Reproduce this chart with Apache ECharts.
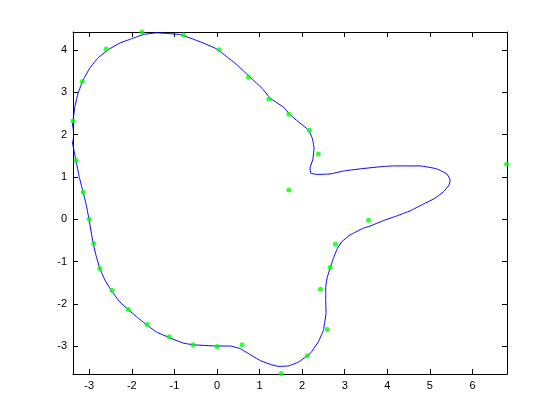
<!DOCTYPE html>
<html>
<head>
<meta charset="utf-8">
<script src="https://cdn.jsdelivr.net/npm/echarts@6/dist/echarts.min.js"></script>
<style>html,body{margin:0;padding:0;background:#fff;}#c{width:560px;height:420px;}</style>
</head>
<body>
<div id="c"></div>
<script>
// Smoothed curve
const curveX = [-3.43,-3.376,-3.336,-3.259,-3.141,-2.984,-2.789,-2.554,-2.279,-2.004,-1.732,-1.417,-1.104,-0.869,-0.634,-0.322,-0.007,0.228,0.463,0.775,1.088,1.245,1.558,1.715,1.950,2.145,2.239,2.279,2.249,2.185,2.202,2.343,2.655,2.968,3.36,3.83,4.142,4.77,5.162,5.397,5.475,5.451,5.317,5.122,4.847,4.535,4.222,3.907,3.595,3.437,3.125,2.930,2.827,2.733,2.655,2.592,2.554,2.554,2.561,2.538,2.498,2.380,2.185,1.910,1.675,1.440,1.245,1.010,0.775,0.540,0.305,-0.007,-0.399,-0.557,-0.792,-1.121,-1.417,-1.638,-1.887,-2.084,-2.279,-2.460,-2.632,-2.749,-2.843,-2.921,-3.0,-3.078,-3.156,-3.235,-3.313,-3.360,-3.43];
const curveY = [1.99,2.35,2.66,2.98,3.29,3.57,3.81,4.00,4.16,4.26,4.36,4.40,4.38,4.36,4.28,4.16,4.02,3.84,3.65,3.36,3.06,2.86,2.65,2.47,2.27,2.11,1.91,1.68,1.40,1.21,1.09,1.06,1.07,1.14,1.19,1.24,1.26,1.26,1.19,1.07,0.93,0.81,0.65,0.50,0.36,0.20,0.08,-0.03,-0.16,-0.21,-0.37,-0.53,-0.69,-0.92,-1.16,-1.36,-1.59,-1.91,-2.22,-2.38,-2.62,-2.89,-3.17,-3.37,-3.46,-3.47,-3.42,-3.33,-3.19,-3.05,-2.99,-2.99,-2.97,-2.96,-2.92,-2.79,-2.66,-2.50,-2.30,-2.13,-1.95,-1.71,-1.43,-1.16,-0.84,-0.49,-0.02,0.38,0.69,1.01,1.40,1.64,1.99];
// Measured points
const pointsX = [-3.38,-3.31,-3.14,-3.0,-2.89,-2.75,-2.46,-2.08,-1.64,-1.12,-0.56,0.0,0.59,1.51,2.12,2.59,2.43,2.66,2.78,3.56,6.80,1.69,2.38,2.17,1.69,1.22,0.74,0.05,-0.79,-1.76,-2.60,-3.16];
const pointsY = [2.32,1.39,0.64,0.0,-0.57,-1.16,-1.68,-2.13,-2.48,-2.77,-2.96,-3.0,-2.96,-3.64,-3.22,-2.60,-1.65,-1.13,-0.59,-0.02,1.30,0.69,1.54,2.10,2.48,2.84,3.36,4.0,4.35,4.42,4.02,3.25];
const xTicks = [-3,-2,-1,0,1,2,3,4,5,6];
const yTicks = [-3,-2,-1,0,1,2,3,4];
const xRange = [-3.38, 6.81];
const yRange = [-3.65, 4.42];

const curve = curveX.map((x,i)=>[x,curveY[i]]);
const pts = pointsX.map((x,i)=>[x,pointsY[i]]);
const font = {fontFamily:'Liberation Sans, Arial, sans-serif', fontSize:11, color:'#000'};
function isTick(list,v){return list.some(t=>Math.abs(t-v)<1e-6);}
function axisBase(ticks, range, show, pos){
  return {
    type:'value', min:range[0], max:range[1], minInterval:1, maxInterval:1, splitNumber:10,
    position:pos,
    axisLine:{show:true,onZero:false,lineStyle:{color:'#000',width:1}},
    axisTick:{show:true,inside:true,length:5,lineStyle:{color:'#000'}},
    splitLine:{show:false},
    axisLabel: show ? Object.assign({show:true,margin:6,showMinLabel:false,showMaxLabel:false,
      formatter:v=> isTick(ticks,v) ? String(v) : ''},font) : {show:false}
  };
}
const chart = echarts.init(document.getElementById('c'), null, {renderer:'canvas'});
chart.setOption({
  animation:false,
  backgroundColor:'#fff',
  grid:{left:73,right:53,top:32,bottom:46,containLabel:false},
  xAxis:[axisBase(xTicks,xRange,true,'bottom'), axisBase(xTicks,xRange,false,'top')],
  yAxis:[axisBase(yTicks,yRange,true,'left'), axisBase(yTicks,yRange,false,'right')],
  series:[
    {type:'line', data:curve, showSymbol:false, symbol:'none', smooth:0.12, clip:true,
     lineStyle:{color:'#0000ff',width:1}, z:2},
    {type:'scatter', data:pts, symbol:'circle', symbolSize:5, clip:false,
     itemStyle:{color:'#00ff00'}, z:3}
  ]
});
</script>
</body>
</html>
